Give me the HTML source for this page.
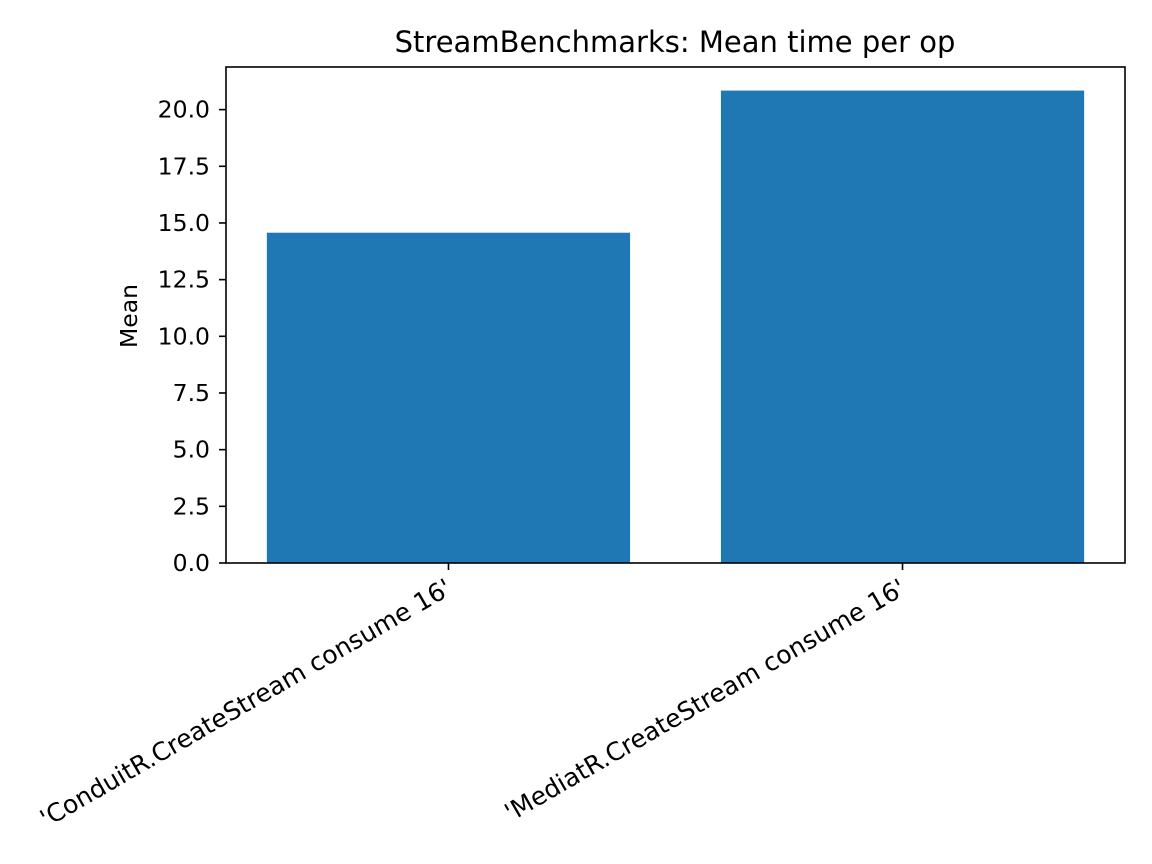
<!DOCTYPE html>
<html><head><meta charset="utf-8"><style>body{margin:0;background:#fff}svg{display:block;font-family:"DejaVu Sans","Liberation Sans",sans-serif}</style></head>
<body>
<svg id="chart" width="1152" height="864"></svg>
<script>
const categories = ["'ConduitR.CreateStream consume 16'", "'MediatR.CreateStream consume 16'"];
const meanValues = [14.57, 20.84];
const yTicks = [0, 2.5, 5, 7.5, 10, 12.5, 15, 17.5, 20];
const yTickLabels = ["0.0","2.5","5.0","7.5","10.0","12.5","15.0","17.5","20.0"];

const NS = "http://www.w3.org/2000/svg";
const svg = document.getElementById('chart');
const L=226, R=1125, T=67, B=563;
const yMax = 21.88;
const y = v => B - v/yMax*(B-T);
const xMin=-0.49, xMax=1.49;
const x = v => L + (v-xMin)/(xMax-xMin)*(R-L);
function mk(tag, attrs, text){const e=document.createElementNS(NS,tag);for(const k in attrs)e.setAttribute(k,attrs[k]);if(text!==undefined)e.textContent=text;svg.appendChild(e);return e;}

meanValues.forEach((v,i)=>{
  const b=mk('rect',{x:x(i-0.4),y:y(v),width:x(i+0.4)-x(i-0.4),height:B-y(v),fill:'#1f77b4'});
  
  
});
const frame=mk('rect',{x:L,y:T,width:R-L,height:B-T,fill:'none',stroke:'#000','stroke-width':1.6});



yTicks.forEach((v,i)=>{
  const t=mk('line',{x1:L-7,x2:L,y1:y(v),y2:y(v),stroke:'#000','stroke-width':1.6});
  
  
  const l=mk('text',{x:L-16,y:y(v)+8,'text-anchor':'end','font-size':23.5},yTickLabels[i]);
  
  
});
categories.forEach((c,i)=>{
  const t=mk('line',{x1:x(i),x2:x(i),y1:B,y2:B+7,stroke:'#000','stroke-width':1.6});
  
  
  const ax=x(i)+5, ay=B+30;
  const l=mk('text',{x:ax,y:ay,'text-anchor':'end','font-size':25,transform:`rotate(-30 ${ax} ${ay})`},c);
  
  
});
const yl=mk('text',{x:137,y:316,'text-anchor':'middle','font-size':23.5,transform:'rotate(-90 137 316)'},'Mean');


const ti=mk('text',{x:675,y:52,'text-anchor':'middle','font-size':29},'StreamBenchmarks: Mean time per op');


</script>
</body></html>
